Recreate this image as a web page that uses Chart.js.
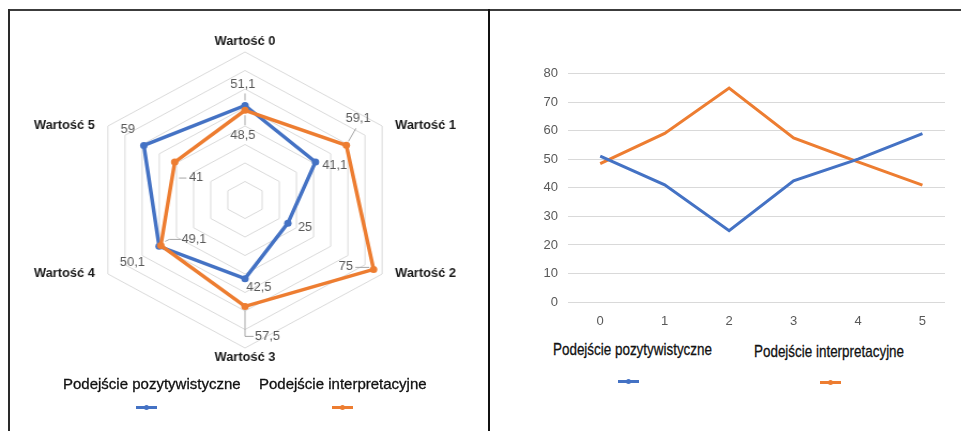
<!DOCTYPE html>
<html>
<head>
<meta charset="utf-8">
<script src="https://cdn.jsdelivr.net/npm/chart.js@4.4.1/dist/chart.umd.min.js"></script>
<style>
    html, body { margin: 0; padding: 0; background: #fff; }
    body { width: 961px; height: 431px; position: relative; overflow: hidden; font-family: "Liberation Sans", Arial, sans-serif; }
    .frameTop { position: absolute; left: 8px; top: 9px; width: 953px; height: 2px; background: #3c3c3c; }
    .frameLeft { position: absolute; left: 8px; top: 9px; width: 2px; height: 422px; background: #2a2a2a; }
    .divider { position: absolute; left: 488px; top: 9px; width: 2px; height: 422px; background: #111; }
    #radarBox { position: absolute; left: 11px; top: 8px; width: 468px; height: 384px; transform: scaleX(1.07); transform-origin: 234px 192px; }
    #lineBox { position: absolute; left: 520px; top: 56px; width: 425px; height: 274px; }
    .leg { position: absolute; color: #111; white-space: nowrap; line-height: 18px; -webkit-text-stroke: 0.3px #111; }
    .legL { font-size: 15px; }
    .legR { font-size: 17px; transform: scaleX(0.79); transform-origin: 0 50%; }
    .swatch { position: absolute; height: 3px; width: 21px; }
    .swatch i { position: absolute; left: 8px; top: -1px; width: 5px; height: 5px; border-radius: 50%; background: inherit; }
</style>
</head>
<body>
<div class="frameTop"></div>
<div class="frameLeft"></div>
<div class="divider"></div>

<div id="radarBox"><canvas id="radarChart"></canvas></div>
<div id="lineBox"><canvas id="lineChart"></canvas></div>

<div class="leg legL" style="left:63px;top:375px;">Podejście pozytywistyczne</div>
<div class="leg legL" style="left:259px;top:375px;">Podejście interpretacyjne</div>
<div class="swatch" style="left:136px;top:406px;background:#4472c4;"><i></i></div>
<div class="swatch" style="left:332px;top:406px;background:#ed7d31;"><i></i></div>

<div class="leg legR" style="left:553px;top:341px;">Podejście pozytywistyczne</div>
<div class="leg legR" style="left:754px;top:343px;">Podejście interpretacyjne</div>
<div class="swatch" style="left:618px;top:380px;background:#4472c4;"><i></i></div>
<div class="swatch" style="left:820px;top:381px;background:#ed7d31;"><i></i></div>

<script>
// data
const radarAxes = ['Wartość 0', 'Wartość 1', 'Wartość 2', 'Wartość 3', 'Wartość 4', 'Wartość 5'];
const lineLabels = ['0', '1', '2', '3', '4', '5'];
const positivist = [51.1, 41.1, 25, 42.5, 50.1, 59];
const interpretive = [48.5, 59.1, 75, 57.5, 49.1, 41];
const seriesNames = ['Podejście pozytywistyczne', 'Podejście interpretacyjne'];

const BLUE = '#4472c4';
const ORANGE = '#ed7d31';

// where each value label sits relative to its point, plus its leader line
const labelOffsets = [
    [
        { dx: -2, dy: -21, lead: [[0, -5], [0, -12]] },
        { dx: 18, dy: 4 },
        { dx: 16, dy: 5 },
        { dx: 13, dy: 9 },
        { dx: -25, dy: 16 },
        { dx: -15, dy: -16 }
    ],
    [
        { dx: -2, dy: 25, lead: [[0, 5], [0, 15]] },
        { dx: 11, dy: -27, lead: [[2, -4], [9, -17]] },
        { dx: -26, dy: -3, lead: [[-4, -2], [-17, -2]] },
        { dx: 21, dy: 30, lead: [[0, 4], [0, 30], [8, 30]] },
        { dx: 31, dy: -6, lead: [[4, -4], [8, -6], [19, -6]] },
        { dx: 20, dy: 16, lead: [[4, 16], [11, 16]] }
    ]
];

function fmt(v) {
    return String(v).replace('.', ',');
}

const radarLabelsPlugin = {
    id: 'radarLabels',
    afterDatasetsDraw(chart) {
        const ctx = chart.ctx;
        const r = chart.scales.r;
        ctx.save();

        // axis names
        ctx.font = 'bold 12px "Liberation Sans", Arial, sans-serif';
        ctx.fillStyle = '#1a1a1a';
        radarAxes.forEach(function(name, i) {
            if (i === 0 || i === 3) {
                const p = r.getPointPosition(i, r.drawingArea + 4);
                ctx.textAlign = 'center';
                ctx.textBaseline = i === 0 ? 'bottom' : 'top';
                ctx.fillText(name, p.x, p.y);
            } else {
                const p = r.getPointPosition(i, r.drawingArea + 14);
                const v = r.getPointPosition(i, r.drawingArea);
                ctx.textAlign = i < 3 ? 'left' : 'right';
                ctx.textBaseline = 'middle';
                ctx.fillText(name, p.x, v.y);
            }
        });

        // value labels
        ctx.font = '12px "Liberation Sans", Arial, sans-serif';
        chart.data.datasets.forEach(function(ds, di) {
            const meta = chart.getDatasetMeta(di);
            meta.data.forEach(function(pt, i) {
                const o = labelOffsets[di][i];
                if (o.lead) {
                    ctx.strokeStyle = '#a6a6a6';
                    ctx.lineWidth = 1;
                    ctx.beginPath();
                    o.lead.forEach(function(q, k) {
                        if (k === 0) ctx.moveTo(pt.x + q[0], pt.y + q[1]);
                        else ctx.lineTo(pt.x + q[0], pt.y + q[1]);
                    });
                    ctx.stroke();
                }
                ctx.fillStyle = '#595959';
                ctx.textAlign = 'center';
                ctx.textBaseline = 'middle';
                ctx.fillText(fmt(ds.data[i]), pt.x + o.dx, pt.y + o.dy);
            });
        });
        ctx.restore();
    }
};

new Chart(document.getElementById('radarChart').getContext('2d'), {
    type: 'radar',
    data: {
        labels: radarAxes,
        datasets: [{
            label: seriesNames[0],
            data: positivist,
            borderColor: BLUE,
            backgroundColor: BLUE,
            pointBackgroundColor: BLUE,
            borderWidth: 3.5,
            pointRadius: 3.5,
            pointBorderWidth: 0,
            fill: false,
            order: 1
        }, {
            label: seriesNames[1],
            data: interpretive,
            borderColor: ORANGE,
            backgroundColor: ORANGE,
            pointBackgroundColor: ORANGE,
            borderWidth: 3.5,
            pointRadius: 3.5,
            pointBorderWidth: 0,
            fill: false,
            order: 0
        }]
    },
    options: {
        responsive: true,
        maintainAspectRatio: false,
        animation: false,
        layout: { padding: { top: 44, bottom: 44, left: 86, right: 86 } },
        plugins: { legend: { display: false }, tooltip: { enabled: false } },
        scales: {
            r: {
                min: 0,
                max: 80,
                ticks: { display: false, stepSize: 10 },
                grid: { color: '#dadada', lineWidth: 1 },
                angleLines: { display: false },
                pointLabels: { display: false }
            }
        }
    },
    plugins: [radarLabelsPlugin]
});

// line chart uses a numeric x axis so the points sit where they do in the picture
function toXY(values) {
    return values.map(function(v, i) { return { x: i, y: v }; });
}

new Chart(document.getElementById('lineChart').getContext('2d'), {
    type: 'line',
    data: {
        datasets: [{
            label: seriesNames[0],
            data: toXY(positivist),
            borderColor: BLUE,
            backgroundColor: BLUE,
            borderWidth: 3,
            pointRadius: 0,
            tension: 0
        }, {
            label: seriesNames[1],
            data: toXY(interpretive),
            borderColor: ORANGE,
            backgroundColor: ORANGE,
            borderWidth: 3,
            pointRadius: 0,
            tension: 0
        }]
    },
    options: {
        responsive: true,
        maintainAspectRatio: false,
        animation: false,
        layout: { padding: { top: 10, left: 0, right: 0, bottom: 0 } },
        plugins: { legend: { display: false }, tooltip: { enabled: false } },
        scales: {
            x: {
                type: 'linear',
                min: -0.5,
                max: 5.35,
                grid: { display: false, drawTicks: false },
                border: { display: false },
                ticks: {
                    stepSize: 1,
                    includeBounds: false,
                    color: '#595959',
                    font: { size: 13, family: '"Liberation Sans", Arial, sans-serif' },
                    padding: 12,
                    callback: function(v) { return lineLabels[v]; }
                },
                afterFit: function(s) { s.height = 28; }
            },
            y: {
                min: 0,
                max: 80,
                ticks: { stepSize: 10, color: '#595959', font: { size: 13, family: '"Liberation Sans", Arial, sans-serif' }, padding: 10 },
                grid: { color: '#d9d9d9', drawTicks: false },
                border: { display: false },
                afterFit: function(s) { s.width = 48; }
            }
        }
    }
});
</script>
</body>
</html>
